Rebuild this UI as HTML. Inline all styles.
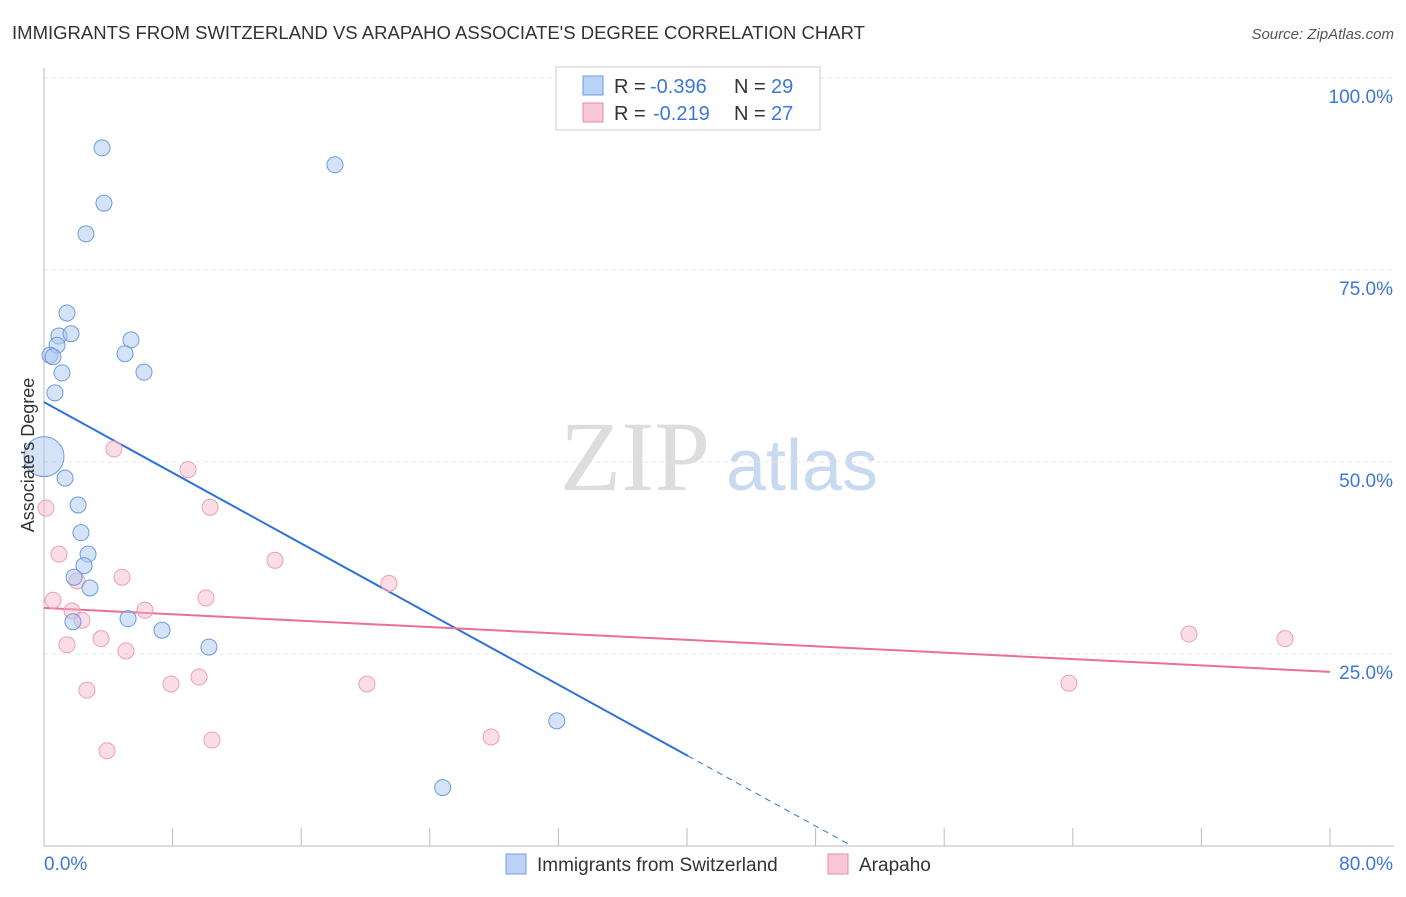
<!DOCTYPE html>
<html><head><meta charset="utf-8"><style>
body{margin:0;background:#fff;font-family:"Liberation Sans",sans-serif}
</style></head><body>
<svg id="chart" width="1406" height="892" xmlns="http://www.w3.org/2000/svg" font-family="Liberation Sans, sans-serif">
<text x="12" y="39" font-size="18" fill="#333" textLength="853" lengthAdjust="spacingAndGlyphs">IMMIGRANTS FROM SWITZERLAND VS ARAPAHO ASSOCIATE'S DEGREE CORRELATION CHART</text>
<text x="1394" y="39" font-size="15" fill="#555" font-style="italic" text-anchor="end">Source: ZipAtlas.com</text>
<g>
<text x="635" y="490" font-size="100" fill="#ddd" style="font-family:'Liberation Serif',serif" text-anchor="middle">ZIP</text>
<text x="802" y="490" font-size="72" fill="#c8daf0" text-anchor="middle">atlas</text>
</g>
<g id="grid"></g><g id="axes"></g><g id="lines"></g><g id="pts"></g>
<text x="34" y="455" font-size="18" fill="#333" text-anchor="middle" transform="rotate(-90 34 455)">Associate's Degree</text>
<g>
<rect x="556" y="67" width="264" height="63" fill="#fff" stroke="#ccc"/>
<rect x="583" y="76" width="20" height="19" fill="#b9d2f5" stroke="#6f9be0"/>
<rect x="583" y="103" width="20" height="19" fill="#f9c8d6" stroke="#e98aa8"/>
<text x="614" y="93" font-size="20" fill="#333">R =</text><text x="650" y="93" font-size="20" fill="#3b78d8">-0.396</text>
<text x="734" y="93" font-size="20" fill="#333">N =</text><text x="771" y="93" font-size="20" fill="#3b78d8">29</text>
<text x="614" y="120" font-size="20" fill="#333">R =</text><text x="653" y="120" font-size="20" fill="#3b78d8">-0.219</text>
<text x="734" y="120" font-size="20" fill="#333">N =</text><text x="771" y="120" font-size="20" fill="#3b78d8">27</text>
</g>
<g><rect x="506" y="854" width="20" height="20" fill="#b9d2f5" stroke="#6f9be0"/><text x="537" y="871" font-size="19" fill="#333">Immigrants from Switzerland</text></g>
<g><rect x="828" y="854" width="20" height="20" fill="#f9c8d6" stroke="#e98aa8"/><text x="859" y="871" font-size="19" fill="#333">Arapaho</text></g>
</svg>
<script>
const blueX=[3.61,3.73,2.61,18.1,1.43,0.93,1.68,0.81,0.37,0.56,1.12,0.68,5.41,5.04,6.22,0,1.31,2.12,2.30,2.74,2.49,1.87,2.86,1.80,5.23,7.34,10.26,31.9,24.8];
const blueY=[90.9,83.7,79.7,88.7,69.4,66.4,66.7,65.2,63.9,63.7,61.6,59.0,65.9,64.1,61.7,50.7,47.9,44.4,40.8,38.0,36.5,35.0,33.6,29.2,29.6,28.1,25.9,16.3,7.6];
const pinkX=[0.12,0.93,0.56,2.05,1.74,2.36,1.43,3.55,5.10,2.67,3.92,4.85,6.28,7.90,9.64,8.96,4.35,10.33,10.08,10.45,14.37,20.09,21.46,27.81,63.76,71.23,77.2];
const pinkY=[44.0,38.0,32.0,34.5,30.6,29.4,26.2,27.0,25.4,20.3,12.4,35.0,30.7,21.1,22.0,49.0,51.7,44.1,32.3,13.8,37.2,21.1,34.2,14.2,21.2,27.6,27.0];
const yTicks=[25,50,75,100];
const yTickLabels=["25.0%","50.0%","75.0%","100.0%"];
const xTicks=[0,8,16,24,32,40,48,56,64,72,80];
const blueTrend=[57.8,-1.15];
const pinkTrend=[31.0,-0.104];
const NS="http://www.w3.org/2000/svg";
const X=v=>44+v*16.075, Y=v=>846-v*7.68;
function mk(t,a,p){const e=document.createElementNS(NS,t);for(const k in a)e.setAttribute(k,a[k]);p.appendChild(e);return e;}
const grid=document.getElementById('grid'),axes=document.getElementById('axes'),lines=document.getElementById('lines'),pts=document.getElementById('pts');
yTicks.forEach((t,i)=>{
 const l=mk('line',{x1:44,x2:1394,y1:Y(t),y2:Y(t),stroke:'#e4e4e4','stroke-dasharray':'4,4'},grid);
 
 
 const tx=mk('text',{x:1393,y:Y(t)+25,'font-size':19,fill:'#3b78d8','text-anchor':'end'},axes);
 tx.textContent=yTickLabels[i];
 
 
});
mk('line',{x1:44,x2:44,y1:68,y2:846,stroke:'#bbb'},axes);
mk('line',{x1:44,x2:1394,y1:846,y2:846,stroke:'#bbb'},axes);
xTicks.forEach(t=>{const l=mk('line',{x1:X(t),x2:X(t),y1:828,y2:846,stroke:'#bbb'},axes);
 
 });
const x0=mk('text',{x:44,y:870,'font-size':19,fill:'#3b78d8'},axes);x0.textContent='0.0%';


const x1=mk('text',{x:1393,y:870,'font-size':19,fill:'#3b78d8','text-anchor':'end'},axes);x1.textContent='80.0%';


const bl=mk('line',{x1:X(0),y1:Y(blueTrend[0]),x2:X(40.06),y2:Y(blueTrend[0]+blueTrend[1]*40.06),stroke:'#2f72d8','stroke-width':2},lines);


const bd=mk('line',{x1:X(40.06),y1:Y(blueTrend[0]+blueTrend[1]*40.06),x2:X(50),y2:Y(blueTrend[0]+blueTrend[1]*50),stroke:'#2f72d8','stroke-width':1,'stroke-dasharray':'6,5'},lines);


const pl=mk('line',{x1:X(0),y1:Y(pinkTrend[0]),x2:X(80),y2:Y(pinkTrend[0]+pinkTrend[1]*80),stroke:'#e8709a','stroke-width':2},lines);


pinkX.forEach((v,i)=>{const c=mk('circle',{cx:X(v),cy:Y(pinkY[i]),r:8,fill:'rgba(246,180,200,0.45)',stroke:'#eaa0b8','stroke-width':1},pts);
 
 });
blueX.forEach((v,i)=>{const c=mk('circle',{cx:X(v),cy:Y(blueY[i]),r:i==15?20:8,fill:'rgba(170,200,240,0.5)',stroke:'#6f9be0','stroke-width':1},pts);
 
 });
</script>
</body></html>
